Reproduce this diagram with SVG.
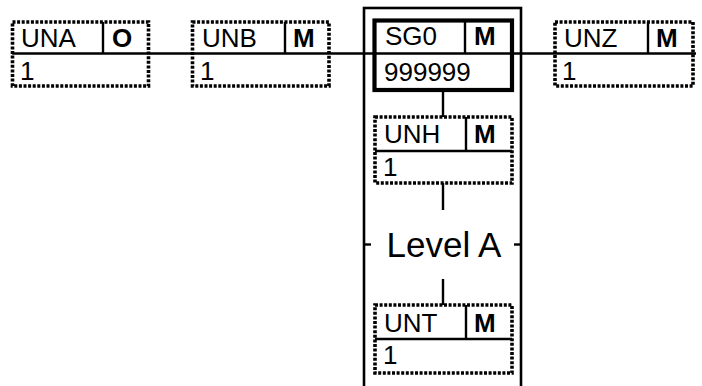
<svg xmlns="http://www.w3.org/2000/svg" width="702" height="386" viewBox="0 0 702 386">
<style>
.dot{fill:#fff;stroke:#000;stroke-width:3.6;stroke-dasharray:3 1.6}
.thick{fill:#fff;stroke:#000;stroke-width:4.2}
.ln{stroke:#000;stroke-width:2.4;fill:none}
.t{font-family:"Liberation Sans",Arial,sans-serif;font-size:26px;fill:#000}
.b{font-family:"Liberation Sans",Arial,sans-serif;font-size:26px;font-weight:bold;fill:#000}
.lvl{font-family:"Liberation Sans",Arial,sans-serif;font-size:35px;fill:#000;text-anchor:middle}
</style>
<rect width="702" height="386" fill="#fff"/>
<g id="group-level-a">
<rect x="364" y="8" width="157" height="400" fill="none" stroke="#000" stroke-width="2.6"/>
<line class="ln" x1="364" y1="244.5" x2="371" y2="244.5"/>
<line class="ln" x1="514" y1="244.5" x2="521" y2="244.5"/>
<text class="lvl" x="444" y="256.5">Level A</text>
</g>
<g id="connectors">
<line class="ln" x1="12" y1="53.5" x2="696" y2="53.5"/>
<line class="ln" x1="443" y1="90" x2="443" y2="117"/>
<line class="ln" x1="443" y1="183" x2="443" y2="210"/>
<line class="ln" x1="443" y1="279" x2="443" y2="305"/>
</g>
<g id="node-una">
<rect class="dot" x="12.5" y="22" width="136" height="64"/>
<line class="ln" x1="12.5" y1="53.5" x2="148.5" y2="53.5"/>
<line class="ln" x1="103" y1="22" x2="103" y2="53.5"/>
<text class="t" x="21" y="47">UNA</text>
<text class="b" x="112" y="47">O</text>
<text class="t" x="20" y="80">1</text>
</g>
<g id="node-unb">
<rect class="dot" x="192.5" y="22" width="136.5" height="64"/>
<line class="ln" x1="192.5" y1="53.5" x2="329" y2="53.5"/>
<line class="ln" x1="285" y1="22" x2="285" y2="53.5"/>
<text class="t" x="202" y="47">UNB</text>
<text class="b" x="293" y="47">M</text>
<text class="t" x="200" y="80">1</text>
</g>
<g id="node-sg0">
<rect class="thick" x="374.5" y="20.5" width="137.5" height="69.5"/>
<line class="ln" x1="374.5" y1="53.5" x2="512" y2="53.5"/>
<line class="ln" x1="465" y1="20.5" x2="465" y2="53.5"/>
<text class="t" x="385" y="45">SG0</text>
<text class="b" x="474" y="45">M</text>
<text class="t" x="384" y="81">999999</text>
</g>
<g id="node-unh">
<rect class="dot" x="375" y="117" width="137" height="66"/>
<line class="ln" x1="375" y1="151" x2="512" y2="151"/>
<line class="ln" x1="466" y1="117" x2="466" y2="151"/>
<text class="t" x="384" y="143">UNH</text>
<text class="b" x="474" y="143">M</text>
<text class="t" x="383" y="176">1</text>
</g>
<g id="node-unt">
<rect class="dot" x="375" y="305" width="137" height="68"/>
<line class="ln" x1="375" y1="339" x2="512" y2="339"/>
<line class="ln" x1="466" y1="305" x2="466" y2="339"/>
<text class="t" x="384" y="331.5">UNT</text>
<text class="b" x="474" y="331.5">M</text>
<text class="t" x="383" y="364">1</text>
</g>
<g id="node-unz">
<rect class="dot" x="555" y="22" width="138" height="64"/>
<line class="ln" x1="555" y1="53.5" x2="693" y2="53.5"/>
<line class="ln" x1="648" y1="22" x2="648" y2="53.5"/>
<text class="t" x="564" y="47">UNZ</text>
<text class="b" x="656" y="47">M</text>
<text class="t" x="562" y="80">1</text>
</g>
</svg>
